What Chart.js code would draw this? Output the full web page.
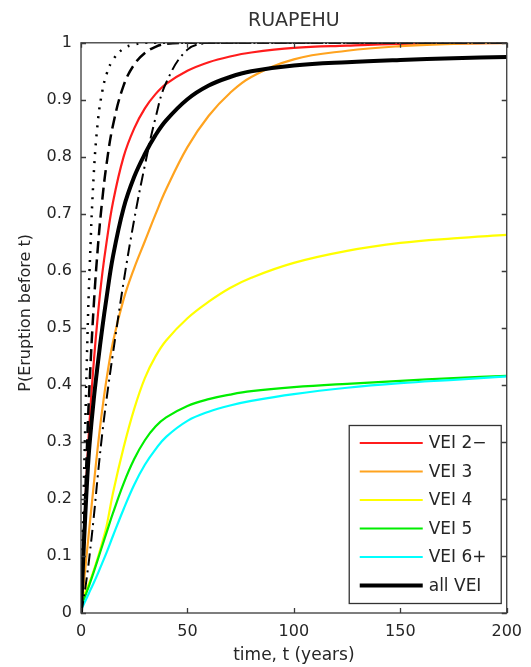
<!DOCTYPE html>
<html>
<head>
<meta charset="utf-8">
<script src="https://cdn.jsdelivr.net/npm/chart.js"></script>
<style>
  html, body { margin:0; padding:0; background:#fff; }
  #c { display:block; }
</style>
</head>
<body>
<canvas id="c" width="531" height="667"></canvas>
<script>
// time axis (years) and P(eruption before t)
const times   = [0, 1, 2, 3, 4, 6, 8, 10, 12, 15, 20, 25, 30, 35, 40, 50, 60, 70, 80, 100, 125, 150, 175, 200];
const vei2    = [0, 0.10, 0.19, 0.27, 0.335, 0.44, 0.525, 0.595, 0.65, 0.72, 0.80, 0.85, 0.885, 0.91, 0.928, 0.951, 0.966, 0.976, 0.983, 0.991, 0.995, 0.998, 0.999, 1.0];
const vei3    = [0, 0.04, 0.078, 0.115, 0.152, 0.225, 0.295, 0.357, 0.41, 0.475, 0.55, 0.605, 0.652, 0.699, 0.743, 0.817, 0.872, 0.912, 0.94, 0.971, 0.986, 0.994, 0.998, 1.0];
const vei4    = [0.02, 0.028, 0.036, 0.045, 0.054, 0.075, 0.098, 0.124, 0.152, 0.21, 0.29, 0.358, 0.412, 0.45, 0.478, 0.517, 0.546, 0.57, 0.588, 0.614, 0.635, 0.649, 0.657, 0.663];
const vei5    = [0.01, 0.02, 0.03, 0.04, 0.05, 0.072, 0.095, 0.118, 0.141, 0.175, 0.227, 0.27, 0.303, 0.327, 0.343, 0.363, 0.375, 0.383, 0.389, 0.396, 0.402, 0.407, 0.412, 0.416];
const vei6    = [0.005, 0.013, 0.021, 0.029, 0.037, 0.053, 0.07, 0.088, 0.106, 0.135, 0.182, 0.225, 0.26, 0.287, 0.309, 0.337, 0.353, 0.364, 0.372, 0.384, 0.395, 0.403, 0.409, 0.415];
const allVei  = [0, 0.09, 0.17, 0.24, 0.295, 0.375, 0.44, 0.50, 0.553, 0.625, 0.71, 0.765, 0.805, 0.838, 0.864, 0.901, 0.925, 0.94, 0.95, 0.96, 0.966, 0.970, 0.973, 0.975];
const dotted  = [0, 0.17, 0.33, 0.48, 0.60, 0.77, 0.865, 0.915, 0.945, 0.97, 0.99, 0.997, 1, 1, 1, 1, 1, 1, 1, 1, 1, 1, 1, 1];
const dashed  = [0, 0.11, 0.21, 0.31, 0.40, 0.54, 0.645, 0.725, 0.787, 0.855, 0.925, 0.962, 0.982, 0.993, 0.998, 1, 1, 1, 1, 1, 1, 1, 1, 1];
const dashDot = [0, 0.02, 0.043, 0.07, 0.10, 0.168, 0.245, 0.315, 0.375, 0.455, 0.58, 0.69, 0.785, 0.868, 0.93, 0.988, 1, 1, 1, 1, 1, 1, 1, 1];

const xTicks = [0, 50, 100, 150, 200];
const yTicks = [0, 0.1, 0.2, 0.3, 0.4, 0.5, 0.6, 0.7, 0.8, 0.9, 1];
const legendLabels = ['VEI 2\u2212', 'VEI 3', 'VEI 4', 'VEI 5', 'VEI 6+', 'all VEI'];

const FONT = '"DejaVu Sans", "Liberation Sans", sans-serif';
const pts = (ys)=> times.map((t,i)=>({x:t, y:ys[i]}));

const line = (label, ys, color, width, dash, order)=>({
  label, data: pts(ys), borderColor: color, backgroundColor: color,
  borderWidth: width, borderDash: dash || [], pointRadius: 0,
  tension: 0.4, fill: false, order
});

// inward ticks + box, like the matlab axes
const frame = {
  id: 'frame',
  afterDatasetsDraw(chart){
    const {ctx, chartArea:a, scales:{x, y}} = chart;
    ctx.save();
    ctx.strokeStyle = '#3a3a3a';
    ctx.lineWidth = 1.3;
    ctx.strokeRect(a.left, a.top, a.right-a.left, a.bottom-a.top);
    ctx.beginPath();
    x.ticks.forEach(t=>{
      const px = Math.round(x.getPixelForValue(t.value))+0.5;
      ctx.moveTo(px, a.bottom); ctx.lineTo(px, a.bottom-5);
      ctx.moveTo(px, a.top);    ctx.lineTo(px, a.top+5);
    });
    y.ticks.forEach(t=>{
      const py = Math.round(y.getPixelForValue(t.value))+0.5;
      ctx.moveTo(a.left, py);  ctx.lineTo(a.left+5, py);
      ctx.moveTo(a.right, py); ctx.lineTo(a.right-5, py);
    });
    ctx.stroke();
    ctx.restore();
  },
  afterDraw(chart){
    const {ctx, chartArea:a} = chart;
    ctx.save();
    // y label
    ctx.fillStyle = '#262626';
    ctx.font = '16px ' + FONT;
    ctx.translate(26, (a.top+a.bottom)/2 - 15);
    ctx.rotate(-Math.PI/2);
    ctx.textAlign = 'center'; ctx.textBaseline = 'middle';
    ctx.fillText('P(Eruption before t)', 0, 0);
    ctx.restore();

    // legend box, lower right inside the axes
    const sets = legendLabels.map(l=>chart.data.datasets.find(d=>d.label===l));
    const w = 152, rowH = 28.5, h = 178;
    const bx = a.right - 6 - w, by = a.bottom - 10 - h;
    ctx.save();
    ctx.fillStyle = '#fff';
    ctx.fillRect(bx, by, w, h);
    ctx.strokeStyle = '#333'; ctx.lineWidth = 1.3;
    ctx.strokeRect(bx+0.5, by+0.5, w, h);
    ctx.font = '17px ' + FONT;
    ctx.textBaseline = 'middle'; ctx.textAlign = 'left';
    sets.forEach((d,i)=>{
      const yy = by + 18 + i*rowH;
      ctx.strokeStyle = d.borderColor;
      ctx.lineWidth = d.borderWidth;
      ctx.beginPath(); ctx.moveTo(bx+11, yy); ctx.lineTo(bx+74, yy); ctx.stroke();
      ctx.fillStyle = '#262626';
      ctx.fillText(d.label, bx+80, yy+1);
    });
    ctx.restore();
  }
};

new Chart(document.getElementById('c'), {
  type: 'line',
  data: { datasets: [
    line('VEI 2\u2212', vei2, '#ff1c1c', 2.2, null, 6),
    line('VEI 3',  vei3, '#ffa31f', 2.2, null, 5),
    line('VEI 4',  vei4, '#ffff00', 2.2, null, 4),
    line('VEI 5',  vei5, '#00ee00', 2.2, null, 3),
    line('VEI 6+', vei6, '#00ffff', 2.2, null, 2),
    line('dotted',  dotted,  '#000', 2.5, [2, 7], 1),
    line('dashed',  dashed,  '#000', 2.5, [12, 6], 1),
    line('dashdot', dashDot, '#000', 2, [12, 5, 2, 5], 1),
    line('all VEI', allVei, '#000', 4, null, 0)
  ]},
  options: {
    responsive: false,
    devicePixelRatio: 1,
    animation: false,
    layout: { padding: { left: 0, right: 22, top: 0, bottom: 0 } },
    plugins: {
      legend: { display: false },
      tooltip: { enabled: false },
      title: {
        display: true, text: 'RUAPEHU', fullSize: false, color: '#333',
        font: { family: FONT, size: 19, weight: 'normal', lineHeight: 1.2 },
        padding: { top: 10, bottom: 10 }
      }
    },
    scales: {
      x: {
        type: 'linear', min: 0, max: 200,
        afterBuildTicks: s=>{ s.ticks = xTicks.map(v=>({value:v})); },
        afterFit: s=>{ s.height = 54; },
        grid: { display: false, drawTicks: false },
        border: { display: false },
        ticks: { color: '#262626', padding: 9, maxRotation: 0, font: { family: FONT, size: 16 },
                 callback: v=>String(v) },
        title: { display: true, text: 'time, t (years)', color: '#262626',
                 font: { family: FONT, size: 17 }, padding: { top: 0, bottom: 1 } }
      },
      y: {
        min: 0, max: 1,
        afterBuildTicks: s=>{ s.ticks = yTicks.map(v=>({value:v})); },
        afterFit: s=>{ s.width = 81; },
        grid: { display: false, drawTicks: false },
        border: { display: false },
        ticks: { color: '#262626', padding: 9, font: { family: FONT, size: 16 },
                 callback: v=>String(v) }
      }
    }
  },
  plugins: [frame]
});
</script>
</body>
</html>
